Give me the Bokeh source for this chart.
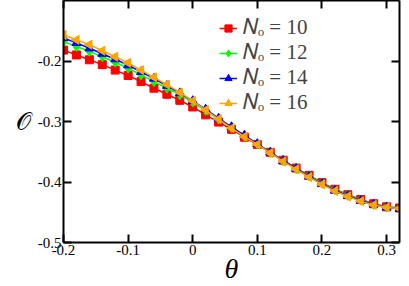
import math
from bokeh.plotting import figure
from bokeh.models import Range1d, LinearAxis, FixedTicker, Legend, LegendItem
from bokeh.embed import file_html
from bokeh.resources import INLINE

theta = [-0.20, -0.18, -0.16, -0.14, -0.12, -0.10, -0.08, -0.06, -0.04, -0.02,
         0.00, 0.02, 0.04, 0.06, 0.08, 0.10, 0.12, 0.14, 0.16, 0.18,
         0.20, 0.22, 0.24, 0.26, 0.28, 0.30, 0.32]

o_n10 = [-0.182, -0.190, -0.198, -0.206, -0.215, -0.224, -0.234, -0.245, -0.255, -0.265,
         -0.276, -0.289, -0.301, -0.313, -0.326, -0.338, -0.351, -0.364, -0.377, -0.389,
         -0.401, -0.412, -0.421, -0.429, -0.436, -0.441, -0.443]
o_n12 = [-0.168, -0.176, -0.184, -0.193, -0.202, -0.212, -0.223, -0.234, -0.245, -0.256,
         -0.268, -0.282, -0.296, -0.310, -0.324, -0.337, -0.351, -0.365, -0.378, -0.390,
         -0.402, -0.413, -0.422, -0.430, -0.437, -0.441, -0.443]
o_n14 = [-0.162, -0.170, -0.179, -0.188, -0.197, -0.207, -0.218, -0.229, -0.241, -0.253,
         -0.266, -0.280, -0.295, -0.309, -0.323, -0.337, -0.351, -0.365, -0.378, -0.391,
         -0.403, -0.414, -0.423, -0.431, -0.437, -0.442, -0.444]
o_n16 = [-0.157, -0.165, -0.173, -0.183, -0.193, -0.203, -0.215, -0.227, -0.239, -0.252,
         -0.266, -0.281, -0.296, -0.311, -0.325, -0.338, -0.352, -0.366, -0.379, -0.392,
         -0.404, -0.415, -0.424, -0.432, -0.438, -0.442, -0.444]

x_ticks = [-0.2, -0.1, 0.0, 0.1, 0.2, 0.3]
x_tick_labels = {-0.2: "-0.2", -0.1: "-0.1", 0.0: "0", 0.1: "0.1", 0.2: "0.2", 0.3: "0.3"}
y_ticks = [-0.5, -0.4, -0.3, -0.2]
y_tick_labels = {-0.5: "-0.5", -0.4: "-0.4", -0.3: "-0.3", -0.2: "-0.2"}

x_label = "θ"
y_label = "𝒪"

series = [
    ("𝑁ₒ = 10", o_n10, "#ff0000", "square", 8, 0.0),
    ("𝑁ₒ = 12", o_n12, "#00ff00", "diamond", 10, 0.0),
    ("𝑁ₒ = 14", o_n14, "#0000ff", "triangle", 9, 0.0),
    ("𝑁ₒ = 16", o_n16, "#ffa500", "triangle", 9, math.pi / 2),
]

FONT = "Liberation Serif"

p = figure(width=402, height=286, output_backend="svg", toolbar_location=None,
           x_range=Range1d(-0.2, 0.32), y_range=Range1d(-0.5, -0.1),
           min_border_top=0, min_border_right=3, min_border_left=63, min_border_bottom=44)
p.grid.visible = False
p.outline_line_color = None

for ax in [p.xaxis[0], p.yaxis[0]]:
    ax.major_label_text_font = FONT
    ax.major_label_text_font_size = "15px"
    ax.major_label_text_color = "black"
    ax.axis_line_width = 2
    ax.major_tick_line_width = 2
    ax.major_tick_in = 8
    ax.major_tick_out = 0
    ax.minor_tick_line_color = None
    ax.major_label_standoff = 2
    ax.axis_label_text_font = FONT
    ax.axis_label_text_color = "black"

p.xaxis[0].ticker = FixedTicker(ticks=x_ticks)
p.xaxis[0].major_label_overrides = x_tick_labels
p.xaxis[0].axis_label = x_label
p.xaxis[0].axis_label_text_font_style = "italic"
p.xaxis[0].axis_label_text_font_size = "28px"
p.xaxis[0].axis_label_standoff = -5
p.yaxis[0].ticker = FixedTicker(ticks=y_ticks)
p.yaxis[0].major_label_overrides = y_tick_labels
p.yaxis[0].axis_label = y_label
p.yaxis[0].axis_label_text_font_style = "normal"
p.yaxis[0].axis_label_text_font_size = "24px"
p.yaxis[0].axis_label_orientation = "horizontal"
p.yaxis[0].axis_label_standoff = 4

blank_x = {t: "" for t in x_ticks}
blank_y = {t: "" for t in y_ticks}
top = LinearAxis(ticker=FixedTicker(ticks=x_ticks), major_label_overrides=blank_x,
                 major_label_standoff=-4, axis_line_width=2, major_tick_line_width=2,
                 major_tick_in=8, major_tick_out=0, minor_tick_line_color=None)
right = LinearAxis(ticker=FixedTicker(ticks=y_ticks), major_label_overrides=blank_y,
                   major_label_standoff=0, axis_line_width=2, major_tick_line_width=2,
                   major_tick_in=8, major_tick_out=0, minor_tick_line_color=None)
p.add_layout(top, "above")
p.add_layout(right, "right")

items = []
for label, vals, color, marker, size, angle in series:
    ln = p.line(theta, vals, line_color=color, line_width=1.5)
    sc = p.scatter(theta, vals, marker=marker, size=size, angle=angle,
                   fill_color=color, line_color=color)
    items.append(LegendItem(label=label, renderers=[ln, sc]))

legend = Legend(items=items, location=(156, 127), border_line_color=None,
                background_fill_alpha=0, label_text_font=FONT,
                label_text_font_size="21px", label_height=24, glyph_height=24,
                glyph_width=18, label_standoff=6, spacing=0, padding=0, margin=0)
p.add_layout(legend, "center")

open("out.html", "w").write(file_html(p, INLINE))
